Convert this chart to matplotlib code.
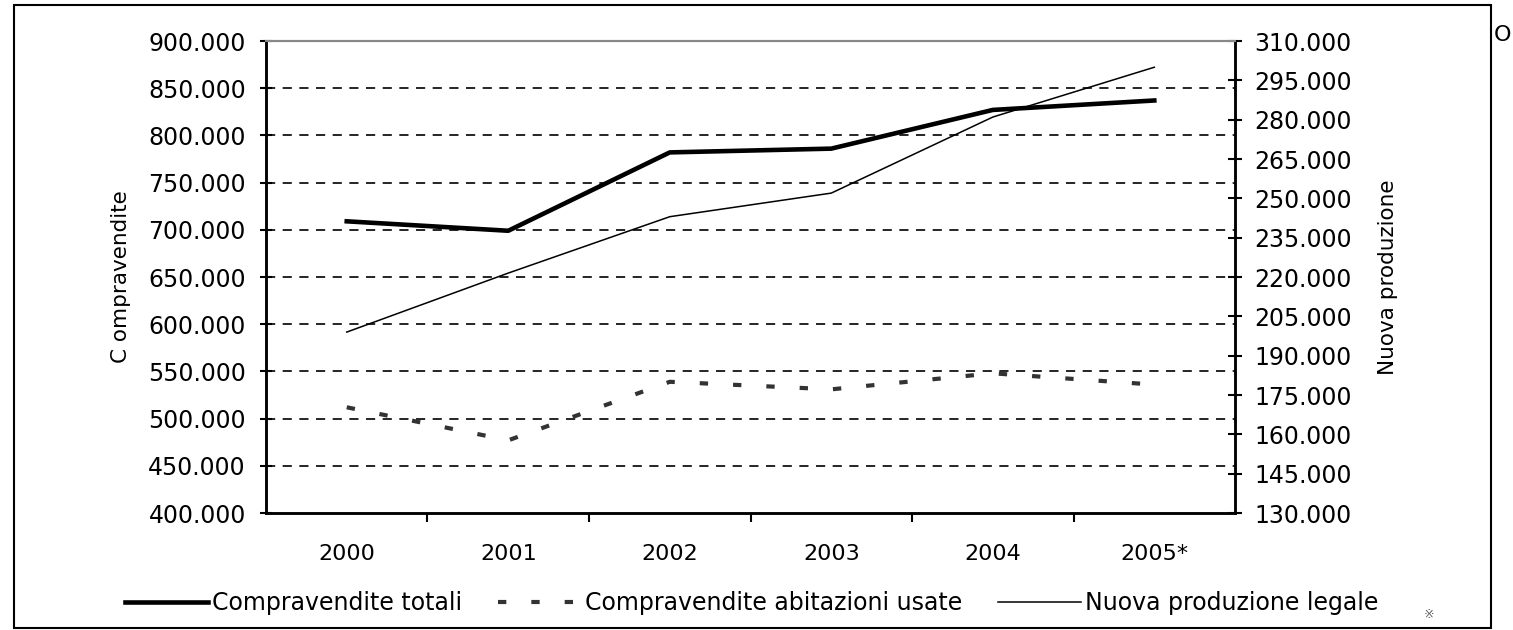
import numpy as np
import matplotlib
matplotlib.use('Agg')
import matplotlib.pyplot as plt
from matplotlib.patches import Rectangle

plt.rcParams['font.family'] = ['DejaVu Sans']

anni = ['2000', '2001', '2002', '2003', '2004', '2005*']
totali = [709000, 699000, 782000, 786000, 827000, 837000]
usate = [512000, 477000, 539000, 531000, 548000, 536000]
nuova = [199000, 221500, 243000, 252000, 281000, 300000]

left_ticks = np.arange(400000, 900001, 50000)
right_ticks = np.arange(130000, 310001, 15000)

def fmt(v):
    return '{:,}'.format(int(v)).replace(',', '.')

fig = plt.figure(figsize=(15.13, 6.3), dpi=100)
ax = fig.add_axes([0.1758, 0.1857, 0.6405, 0.7492])
ax2 = ax.twinx()

x = np.arange(len(anni))

l1, = ax.plot(x, totali, color='black', lw=3.3, label='Compravendite totali')
l2, = ax.plot(x, usate, color='#333333', lw=3, linestyle=(0, (2, 6)),
              label='Compravendite abitazioni usate')
l3, = ax2.plot(x, nuova, color='black', lw=1.1, label='Nuova produzione legale')

ax.set_xlim(-0.5, len(anni) - 0.5)
ax.set_ylim(400000, 900000)
ax2.set_ylim(130000, 310000)

# griglia tratteggiata
for v in left_ticks[1:-1]:
    ax.axhline(v, color='black', lw=1.2, linestyle=(0, (5.5, 4.5)), zorder=0)

ax.set_yticks(left_ticks)
ax.set_yticklabels([fmt(v) for v in left_ticks])
ax2.set_yticks(right_ticks)
ax2.set_yticklabels([fmt(v) for v in right_ticks])

ax.set_xticks(x)
ax.set_xticklabels(anni)
ax.set_xticks(np.arange(0.5, len(anni) - 0.5, 1), minor=True)
ax.tick_params(axis='x', which='major', length=0, pad=22, labelsize=16)
ax.tick_params(axis='x', which='minor', direction='out', length=6.5, width=1.5)
ax.tick_params(axis='y', direction='inout', length=9, width=1.5, pad=10, labelsize=17)
ax2.tick_params(axis='y', direction='inout', length=10, width=1.5, pad=9, labelsize=17)

for a in (ax, ax2):
    a.spines['top'].set_color('#888888')
    a.spines['top'].set_linewidth(1.5)
    a.spines['left'].set_linewidth(1.8)
    a.spines['right'].set_linewidth(1.8)
    a.spines['bottom'].set_linewidth(1.8)

ax.set_ylabel('C ompravendite', fontsize=15.5)
ax.yaxis.set_label_coords(-0.139, 0.5)
ax2.set_ylabel('Nuova produzione', fontsize=15.5, rotation=90)
ax2.yaxis.set_label_coords(1.147, 0.5)

fig.legend(handles=[l1, l2, l3], loc='center', bbox_to_anchor=(0.497, 0.043),
           ncol=3, frameon=False, fontsize=17, handlelength=3.5,
           handletextpad=0.2, columnspacing=1.5)

# cornice esterna
fig.patches.append(Rectangle((14 / 1513, 2 / 630), 1477 / 1513, 623 / 630,
                             transform=fig.transFigure, fill=False,
                             edgecolor='black', lw=1.5))
fig.text(0.993, 0.945, 'O', fontsize=16, ha='center', va='center')
fig.text(0.9445, 0.024, '\u203b', fontsize=9, color='#555555', ha='center', va='center')

fig.savefig('out.png', dpi=100)
